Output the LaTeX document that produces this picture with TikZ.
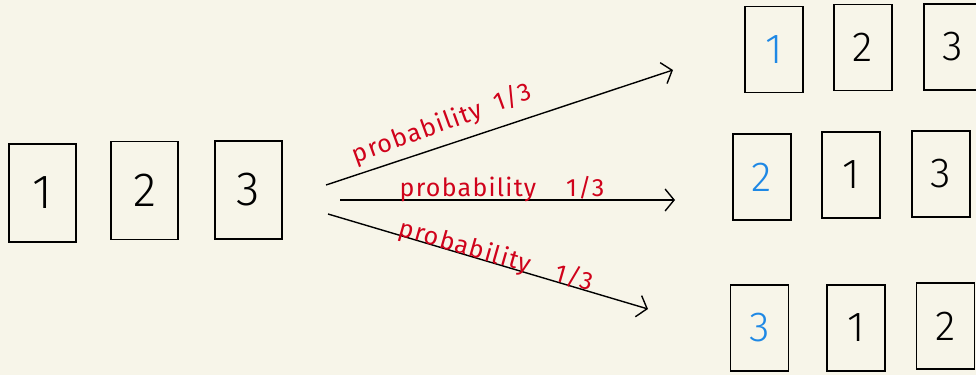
\documentclass[tikz,border=0pt]{standalone}
\usepackage{fontspec}
\setmainfont{Fira Sans}[UprightFont={* Light}]
\newfontfamily\labelfont{Fira Sans}[LetterSpace=5]
\usetikzlibrary{arrows.meta}
\definecolor{bg}{RGB}{247,245,233}
\definecolor{hred}{RGB}{208,2,27}
\definecolor{hblue}{RGB}{30,136,229}
\begin{document}
\begin{tikzpicture}[x=1pt,y=-1pt,
  card/.style={draw=black, line width=1.6pt, inner sep=0pt, minimum width=67pt, minimum height=98pt, font=\fontsize{48}{48}\selectfont},
  smallcard/.style={card, minimum width=58pt, minimum height=86pt, font=\fontsize{42}{42}\selectfont},
  pick/.style={text=hblue},
  arr/.style={line width=1.4pt, -{Straight Barb[length=9pt,width=22pt,line width=1.4pt]}},
  lbl/.style={text=hred, font=\labelfont\fontsize{25}{25}\selectfont, inner sep=0pt}]
\useasboundingbox[fill=bg] (0,0) rectangle (976,375);
% left cards
\node[card] (L1) at (42.5,193) {1};
\node[card] (L2) at (144.5,190.5) {2};
\node[card] (L3) at (248.5,190) {3};
% right cards
\node[smallcard,pick] (A1) at (774,49.5) {1};
\node[smallcard] (A2) at (863,47.5) {2};
\node[smallcard] (A3) at (953,47) {3};
\node[smallcard,pick] (B1) at (762,177) {2};
\node[smallcard] (B2) at (851,175) {1};
\node[smallcard] (B3) at (941,174) {3};
\node[smallcard,pick] (C1) at (759.5,328) {3};
\node[smallcard] (C2) at (856,328) {1};
\node[smallcard] (C3) at (945.5,326) {2};
% arrows
\coordinate (s1) at (326,185);
\coordinate (e1) at (673,70);
\coordinate (s2) at (340,200);
\coordinate (e2) at (675,200);
\coordinate (s3) at (328,214);
\coordinate (e3) at (648,309);
\draw[arr] (s1) -- (e1);
\draw[arr] (s2) -- (e2);
\draw[arr] (s3) -- (e3);
% labels
\node[lbl, rotate=20] (p1) at (442,124) {probability\hspace{14pt}1/3};
\node[lbl, anchor=base] (p2) at (502,196) {probability\hspace{30pt}1/3};
\node[lbl, rotate=-16] (p3) at (496,256) {probability\hspace{26pt}1/3};
\end{tikzpicture}
\end{document}
